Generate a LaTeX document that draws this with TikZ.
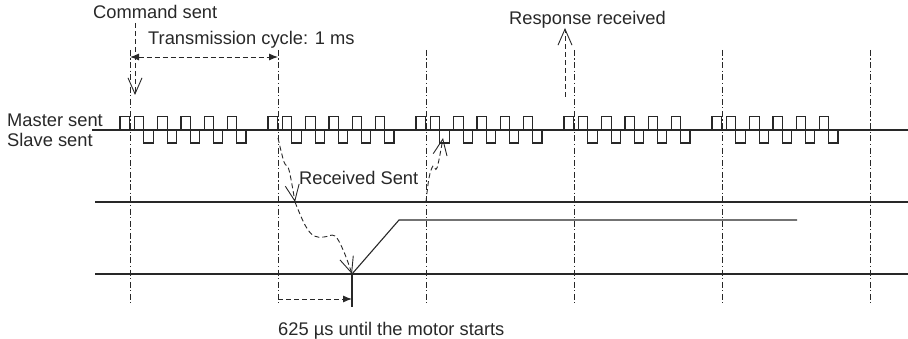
\documentclass[tikz,border=0pt]{standalone}
\usepackage{fontspec}
\setmainfont{Liberation Sans}
\usepackage{tikz}
\usetikzlibrary{arrows.meta,calc}
\definecolor{sigline}{RGB}{40,40,40}
\tikzset{
  sig/.style={line width=1.1pt, sigline},
  cycleline/.style={line width=0.9pt, sigline,
                    dash pattern=on 6pt off 2.5pt on 1.2pt off 2.5pt},
  evarrow/.style={line width=0.9pt, sigline, dash pattern=on 5pt off 3pt,
                  -{Straight Barb[length=16pt,width=14pt,line width=0.9pt]}},
  spanarrow/.style={line width=0.9pt, sigline, dash pattern=on 5pt off 3pt},
  lbl/.style={font=\fontsize{18.3}{21}\selectfont, text=sigline,
              inner sep=0pt, anchor=base west},
}

\begin{document}
\begin{tikzpicture}[x=1pt,y=-1pt]
  \useasboundingbox (0,0) rectangle (908,339);
  % Labels
  \node[lbl] (cmd) at (93,19) {Command sent};
  \node[lbl] (cyc) at (148,45) {Transmission cycle: 1 ms};
  \node[lbl] (resp) at (509,25) {Response received};
  \node[lbl] (mst) at (7,127) {Master sent};
  \node[lbl] (slv) at (7,147) {Slave sent};
  \node[lbl] (rxtx) at (299,185) {Received Sent};
  \node[lbl] (delay) at (278,335) {625 µs until the motor starts};
  % Cycle markers
  \foreach \c [count=\i] in {130,278,426,574,722,870}{
    \draw[cycleline] (\c,50) coordinate (top\i) -- (\c,303) coordinate (bot\i);
  }
  % Master / slave frames
  \draw[sig] (92,130) -- (908,130);
  \foreach \c in {130,278,426,574,722}{
    \draw[sig] (\c-10,130) -- ++(0,-13.5) -- ++(9.3,0) -- ++(0,13.5);
    \foreach \k in {0,...,4}{
      \draw[sig] ({\c+4.6+23.2*\k},130) -- ++(0,-13.5) -- ++(9.3,0)
        -- ++(0,26.5) -- ++(9.3,0) -- ++(0,-13);
    }
  }
  % Slave side and motor
  \draw[sig] (95,202) -- (908,202);
  \draw[sig] (95,274) -- (908,274);
  \coordinate (start) at (352,274);
  \coordinate (flat) at (399,220);
  \draw[sig] (start) -- (flat) -- (797,220);
  \draw[sig] (start) -- (352,307);
  % Command / response
  \coordinate (cmdtop) at (135,23);
  \coordinate (cmdtip) at (135,95);
  \draw[evarrow] (cmdtop) -- (cmdtip);
  \coordinate (resplow) at (565,97);
  \coordinate (resptip) at (565,28);
  \draw[evarrow] (resplow) -- (resptip);
  \coordinate (cycl) at (130,57);
  \coordinate (cycr) at (278,57);
  \draw[spanarrow,{Latex[length=9pt,width=7pt]}-{Latex[length=9pt,width=7pt]}] (cycl) -- (cycr);
  % Data path to the motor
  \coordinate (frame) at (278,138);
  \coordinate (rx) at (295,202);
  \coordinate (tx) at (426,202);
  \coordinate (txtip) at (443,138);
  \draw[evarrow] plot[smooth, tension=0.6] coordinates {(frame) (284,162) (289,170) (rx)};
  \draw[evarrow] plot[smooth, tension=0.6] coordinates {(rx) (305,225) (314,236) (324,237) (335,236) (344,252) (start)};
  \draw[evarrow] plot[smooth, tension=0.6] coordinates {(tx) (429,178) (433,166) (437,168) (txtip)};
  \coordinate (dlyl) at (278,299);
  \coordinate (dlyr) at (352,299);
  \draw[spanarrow,-{Latex[length=9pt,width=7pt]}] (dlyl) -- (dlyr);
\end{tikzpicture}
\end{document}
